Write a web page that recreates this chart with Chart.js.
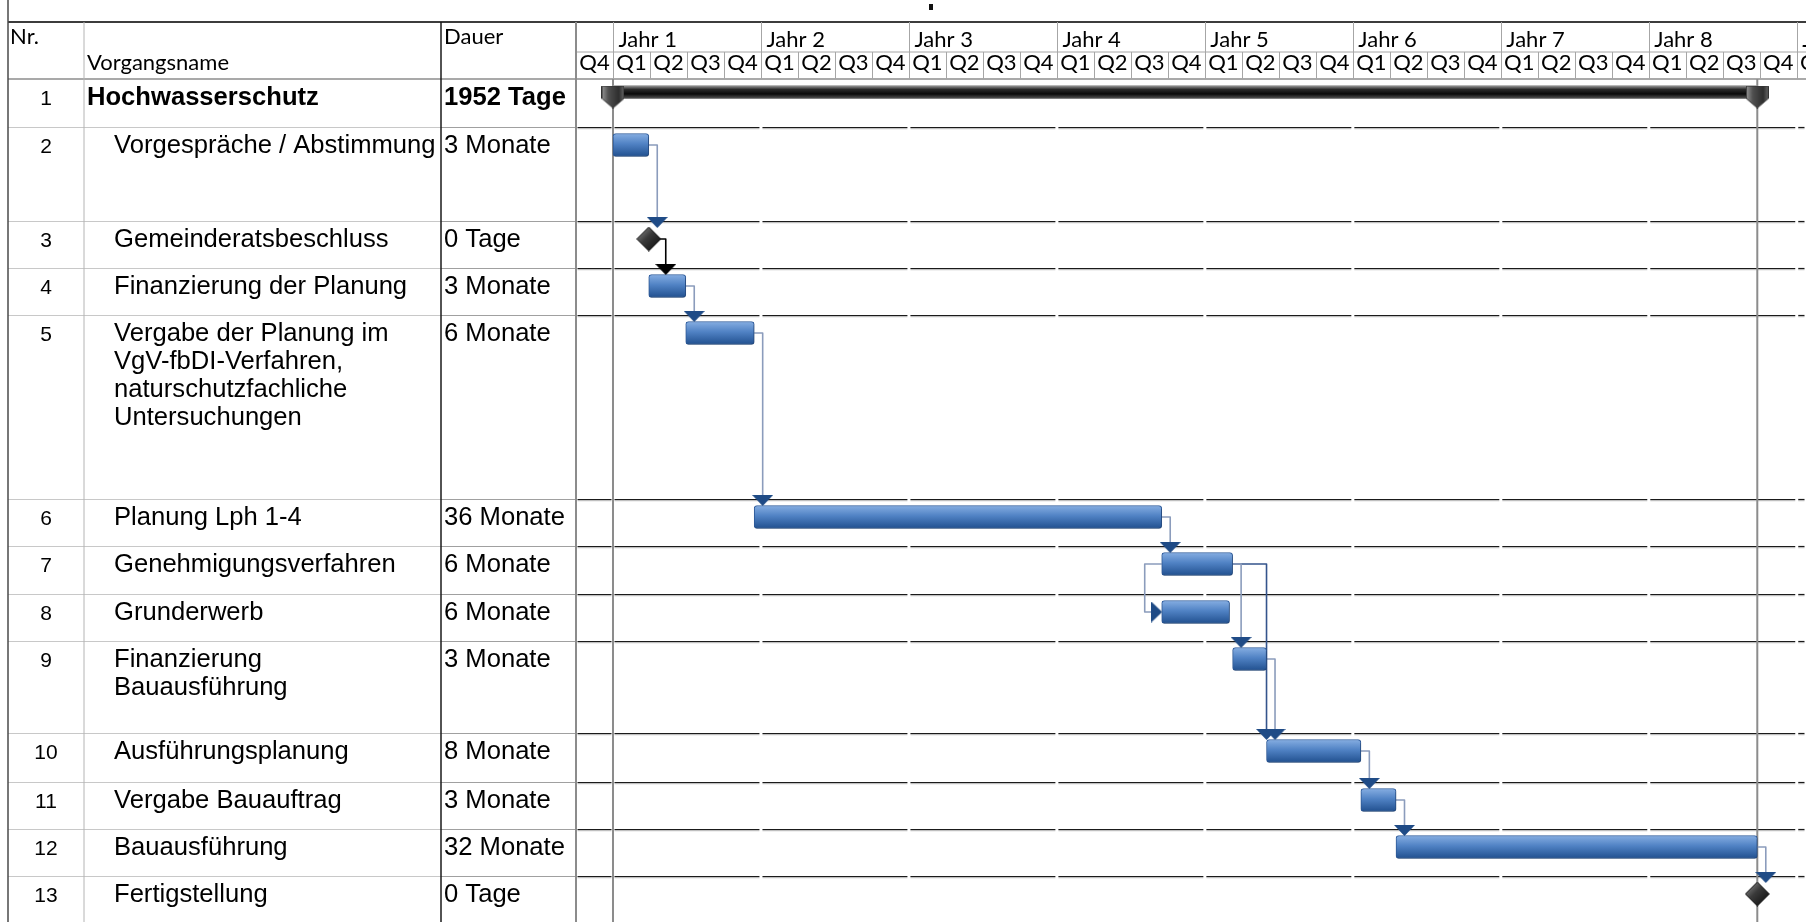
<!DOCTYPE html>
<html lang="de">
<head>
<meta charset="utf-8">
<title>Hochwasserschutz – Terminplan</title>
<script src="https://cdn.jsdelivr.net/npm/chart.js@4.4.1/dist/chart.umd.min.js"></script>
<style>
  html, body { margin: 0; padding: 0; background: #fff; }
  #wrap { position: relative; width: 1806px; height: 922px; }
</style>
</head>
<body>
<div id="wrap"><canvas id="gantt"></canvas></div>
<script>
// ---- Vorgänge ----
const columnHeaders = ['Nr.', 'Vorgangsname', 'Dauer'];
const taskIds = [1, 2, 3, 4, 5, 6, 7, 8, 9, 10, 11, 12, 13];
const taskNames = [
  'Hochwasserschutz',
  'Vorgespräche / Abstimmung',
  'Gemeinderatsbeschluss',
  'Finanzierung der Planung',
  'Vergabe der Planung im\nVgV-fbDI-Verfahren,\nnaturschutzfachliche\nUntersuchungen',
  'Planung Lph 1-4',
  'Genehmigungsverfahren',
  'Grunderwerb',
  'Finanzierung\nBauausführung',
  'Ausführungsplanung',
  'Vergabe Bauauftrag',
  'Bauausführung',
  'Fertigstellung'
];
const taskDurations = ['1952 Tage', '3 Monate', '0 Tage', '3 Monate', '6 Monate', '36 Monate',
  '6 Monate', '6 Monate', '3 Monate', '8 Monate', '3 Monate', '32 Monate', '0 Tage'];
const taskKinds = ['summary', 'task', 'milestone', 'task', 'task', 'task',
  'task', 'task', 'task', 'task', 'task', 'task', 'milestone'];
// Beginn / Ende in Monaten ab Beginn "Jahr 1"
const taskStart = [0, 0, 2.9, 2.9, 5.9, 11.45, 44.5, 44.5, 50.25, 53.0, 60.65, 63.5, 92.8];
const taskEnd   = [92.8, 2.9, 2.9, 5.9, 11.45, 44.5, 50.25, 50.0, 53.0, 60.65, 63.5, 92.8, 92.8];

// ---- Anordnungsbeziehungen ----
const linkFrom = [2, 3, 4, 5, 6, 7, 7, 7, 9, 10, 11, 12];
const linkTo   = [3, 4, 5, 6, 7, 8, 9, 10, 10, 11, 12, 13];
const linkType = ['FS', 'FS', 'FS', 'FS', 'FS', 'SS', 'FS', 'FS', 'FS', 'FS', 'FS', 'FS'];

// ---- Zeitskala ----
const yearLabels = ['Jahr 1', 'Jahr 2', 'Jahr 3', 'Jahr 4', 'Jahr 5', 'Jahr 6', 'Jahr 7', 'Jahr 8', 'Jahr 9'];
const quarterNames = ['Q1', 'Q2', 'Q3', 'Q4'];

// ---- Layout (Tabelle) ----
const W = 1806, H = 922;
const HEAD_TOP = 22, HEAD_MID = 52, HEAD_BOT = 79;
const COL_X = [8, 84, 441];      // Rand | Nr. | Vorgangsname | Dauer
const COL_CHART = 576;           // Beginn Balkendiagramm
const rowHeights = [48, 94, 47, 47, 184, 47, 48, 47, 92, 49, 47, 47, 46];
const X_MIN = -3, X_MAX = 96.75;
const PPM = (W - COL_CHART) / (X_MAX - X_MIN);
const mo = p => p / PPM;         // Pixelabstand -> Monate

const rowTop = [];
let acc = 0;
rowHeights.forEach(h => { rowTop.push(acc); acc += h; });
const idx = id => taskIds.indexOf(id);

// Balken, Meilensteine, Sammelvorgang
const barData = [], summaryData = [], capData = [], msData = [];
taskIds.forEach((id, i) => {
  if (taskKinds[i] === 'task') {
    barData.push({ x: [taskStart[i], taskEnd[i]], y: rowTop[i] + 18 });
  } else if (taskKinds[i] === 'summary') {
    summaryData.push({ x: [taskStart[i], taskEnd[i]], y: rowTop[i] + 13 });
    capData.push({ x: taskStart[i], y: rowTop[i] + 18 }, { x: taskEnd[i], y: rowTop[i] + 18 });
  } else {
    msData.push({ x: taskStart[i], y: rowTop[i] + 18 });
  }
});

// Verbindungslinien und Pfeile
const linkSets = [], arrowDown = [], arrowDownBlack = [], arrowRight = [];
linkFrom.forEach((from, k) => {
  const a = idx(from), b = idx(linkTo[k]);
  const ya = rowTop[a] + 18, yb = rowTop[b];
  let pts, color = '#8b9cbc';
  if (linkType[k] === 'SS') {
    const xl = taskStart[a] - mo(17);
    pts = [{ x: taskStart[a], y: ya }, { x: xl, y: ya }, { x: xl, y: yb + 18 }, { x: taskStart[b] - mo(9), y: yb + 18 }];
    arrowRight.push({ x: taskStart[b] - mo(5), y: yb + 18 });
  } else {
    const ms = taskKinds[a] === 'milestone';
    const x0 = taskEnd[a] + mo(ms ? 11 : 0);
    const xt = Math.max(taskEnd[a] + mo(ms ? 17 : 8.5), taskStart[b]);
    pts = [{ x: x0, y: ya }, { x: xt, y: ya }, { x: xt, y: yb - 3 }];
    (ms ? arrowDownBlack : arrowDown).push({ x: xt, y: yb + 1.5 });
    if (ms) color = '#000000';
    else if (taskStart[b] > taskEnd[a] + mo(8.5)) color = '#34548c';
  }
  linkSets.push({
    type: 'line', data: pts, borderColor: color, borderWidth: 1.6,
    pointRadius: 0, tension: 0, fill: false, borderJoinStyle: 'round', order: 3
  });
});

// ---- Symbole ----
function makeCanvas(w, h, draw) {
  const c = document.createElement('canvas');
  c.width = w; c.height = h;
  draw(c.getContext('2d'));
  return c;
}
const arrowImg = color => makeCanvas(21, 11, g => {
  g.fillStyle = color;
  g.beginPath(); g.moveTo(0, 0); g.lineTo(21, 0); g.lineTo(10.5, 11); g.closePath(); g.fill();
});
const arrowBlue = arrowImg('#1f4b86');
const arrowBlack = arrowImg('#000000');
const diamondImg = makeCanvas(25, 25, g => {
  const gr = g.createLinearGradient(2, 2, 22, 22);
  gr.addColorStop(0, '#8a8a8a'); gr.addColorStop(0.45, '#3a3a3a'); gr.addColorStop(1, '#111');
  g.fillStyle = gr; g.strokeStyle = '#1a1a1a'; g.lineWidth = 1;
  g.beginPath(); g.moveTo(12.5, 0.5); g.lineTo(24.5, 12.5); g.lineTo(12.5, 24.5); g.lineTo(0.5, 12.5); g.closePath();
  g.fill(); g.stroke();
});
const capImg = makeCanvas(23, 23, g => {
  const gr = g.createLinearGradient(0, 0, 23, 0);
  gr.addColorStop(0, '#9a9a9a'); gr.addColorStop(0.3, '#505050'); gr.addColorStop(0.75, '#2e2e2e'); gr.addColorStop(1, '#6a6a6a');
  g.fillStyle = gr; g.strokeStyle = '#333'; g.lineWidth = 1;
  g.beginPath(); g.moveTo(0.5, 0.5); g.lineTo(22.5, 0.5); g.lineTo(22.5, 13); g.lineTo(11.5, 22.5); g.lineTo(0.5, 13); g.closePath();
  g.fill(); g.stroke();
});

function blueFill(c) {
  const chart = c.chart;
  if (!chart.chartArea || !c.raw) return '#4a7bc0';
  const yc = chart.scales.y.getPixelForValue(c.raw.y);
  if (!isFinite(yc)) return '#4a7bc0';
  const g = chart.ctx.createLinearGradient(0, yc - 11.5, 0, yc + 11.5);
  g.addColorStop(0, '#86aee2'); g.addColorStop(0.45, '#5082c4'); g.addColorStop(1, '#21508f');
  return g;
}
function darkFill(c) {
  const chart = c.chart;
  if (!chart.chartArea || !c.raw) return '#1a1a1a';
  const yc = chart.scales.y.getPixelForValue(c.raw.y);
  if (!isFinite(yc)) return '#1a1a1a';
  const g = chart.ctx.createLinearGradient(0, yc - 6.5, 0, yc + 6.5);
  g.addColorStop(0, '#a0a0a0'); g.addColorStop(0.3, '#2a2a2a'); g.addColorStop(0.65, '#0a0a0a'); g.addColorStop(1, '#555555');
  return g;
}

// ---- Tabelle + Zeitskala ----
const ganttTable = {
  id: 'ganttTable',
  beforeDraw(chart) {
    const { ctx, scales: { x, y } } = chart;
    const R = chart.width, B = chart.height;
    const px = m => x.getPixelForValue(m);
    const py = v => y.getPixelForValue(v);
    const line = (x1, y1, x2, y2, color, w) => {
      ctx.strokeStyle = color; ctx.lineWidth = w;
      ctx.beginPath(); ctx.moveTo(x1, y1); ctx.lineTo(x2, y2); ctx.stroke();
    };

    ctx.save();
    ctx.fillStyle = '#fff';
    ctx.fillRect(0, 0, R, B);

    // Zeilenlinien, im Diagramm an den Jahresgrenzen unterbrochen
    const segs = [COL_CHART, ...yearLabels.map((_, k) => px(12 * k)), R];
    rowTop.forEach((t, i) => {
      const yy = Math.round(py(t + rowHeights[i])) + 0.5;
      if (yy > B) return;
      line(COL_X[0], yy, COL_X[2], yy, '#c8c8c8', 1);
      line(COL_X[2], yy, COL_CHART, yy, '#a0a0a0', 1);
      for (let s = 0; s < segs.length - 1; s++) {
        line(segs[s] + 1.5, yy, segs[s + 1] - 1.5, yy, '#1a1a1a', 1.2);
        line(segs[s] + 1.5, yy + 1.2, segs[s + 1] - 1.5, yy + 1.2, '#b0b0b0', 1);
      }
    });

    // Kopf
    line(COL_X[0], HEAD_TOP, R, HEAD_TOP, '#3c3c3c', 2);
    line(COL_CHART, HEAD_MID, R, HEAD_MID, '#a6a6a6', 1);
    line(COL_X[0], HEAD_BOT, R, HEAD_BOT, '#8c8c8c', 1.5);
    for (let m = 0; m <= X_MAX; m += 3) {
      const xx = Math.round(px(m)) + 0.5;
      line(xx, m % 12 === 0 ? HEAD_TOP : HEAD_MID, xx, HEAD_BOT, '#a6a6a6', 1);
    }

    // Spalten
    line(COL_X[0], 0, COL_X[0], B, '#4a4a4a', 1.5);
    line(COL_X[1], HEAD_TOP, COL_X[1], B, '#b4b4b4', 1);
    line(COL_X[2], HEAD_TOP, COL_X[2], B, '#1a1a1a', 1.5);
    line(COL_CHART, HEAD_TOP, COL_CHART, B, '#8c8c8c', 2);
    // Projektanfang / Projektende
    line(px(taskStart[0]), HEAD_BOT, px(taskStart[0]), B, '#8c8c8c', 2);
    line(px(taskEnd[0]), HEAD_BOT, px(taskEnd[0]), B, '#8c8c8c', 2);

    // Kopftexte
    ctx.fillStyle = '#000';
    ctx.textBaseline = 'alphabetic';
    ctx.font = '22px Lato';
    ctx.textAlign = 'left';
    ctx.fillText(columnHeaders[0], 10, 44);
    ctx.fillText(columnHeaders[1], 87, 70);
    ctx.fillText(columnHeaders[2], 444, 44);
    yearLabels.forEach((lab, k) => ctx.fillText(lab, px(12 * k) + 5.5, 47));
    ctx.textAlign = 'center';
    for (let m = X_MIN; m < X_MAX; m += 3) {
      ctx.fillText(quarterNames[((m / 3) % 4 + 4) % 4], px(m + 1.5), 69.5);
    }

    // Zeilentexte
    rowTop.forEach((t, i) => {
      const base = py(t) + 25.5;
      const bold = taskKinds[i] === 'summary';
      ctx.textAlign = 'center';
      ctx.font = '21px "Liberation Sans"';
      ctx.fillText(String(taskIds[i]), 46, base);
      ctx.textAlign = 'left';
      ctx.font = (bold ? 'bold ' : '') + '25.6px "Liberation Sans"';
      taskNames[i].split('\n').forEach((ln, j) => ctx.fillText(ln, bold ? 87 : 114, base + j * 28));
      ctx.fillText(taskDurations[i], 444, base);
    });

    ctx.fillStyle = '#111';
    ctx.fillRect(929, 4, 4, 6);
    ctx.restore();
  }
};

// leichter Schatten unter den Vorgangsbalken
const barShadow = {
  id: 'barShadow',
  beforeDatasetDraw(chart, args) {
    if (args.index !== 0) return;
    const ctx = chart.ctx;
    ctx.save();
    ctx.shadowColor = 'rgba(0,0,0,0.22)';
    ctx.shadowOffsetX = 1; ctx.shadowOffsetY = 2; ctx.shadowBlur = 2;
  },
  afterDatasetDraw(chart, args) {
    if (args.index === 0) chart.ctx.restore();
  }
};

function build() {
  new Chart(document.getElementById('gantt'), {
    type: 'bar',
    data: {
      datasets: [
        {
          type: 'bar', label: 'Vorgänge', indexAxis: 'y', grouped: false, data: barData,
          barThickness: 23, borderRadius: 3, borderSkipped: false, borderWidth: 1,
          borderColor: '#2d5a9a', backgroundColor: blueFill, order: 2
        },
        {
          type: 'bar', label: 'Sammelvorgang', indexAxis: 'y', grouped: false, data: summaryData,
          barThickness: 13, borderWidth: 0, borderSkipped: false, backgroundColor: darkFill, order: 2
        },
        ...linkSets,
        { type: 'line', showLine: false, data: capData, pointStyle: capImg, pointRadius: 6, order: 1 },
        { type: 'line', showLine: false, data: msData, pointStyle: diamondImg, pointRadius: 6, order: 1 },
        { type: 'line', showLine: false, data: arrowDown, pointStyle: arrowBlue, pointRadius: 6, order: 0 },
        { type: 'line', showLine: false, data: arrowDownBlack, pointStyle: arrowBlack, pointRadius: 6, order: 0 },
        { type: 'line', showLine: false, data: arrowRight, pointStyle: arrowBlue, pointRotation: -90, pointRadius: 6, order: 0 }
      ]
    },
    options: {
      responsive: true,
      maintainAspectRatio: false,
      animation: false,
      events: [],
      layout: { autoPadding: false, padding: { left: COL_CHART, top: HEAD_BOT, right: 0, bottom: 0 } },
      plugins: { legend: { display: false }, tooltip: { enabled: false } },
      scales: {
        x: { type: 'linear', min: X_MIN, max: X_MAX, offset: false, display: false },
        y: { type: 'linear', min: 0, max: H - HEAD_BOT, reverse: true, offset: false, display: false }
      }
    },
    plugins: [ganttTable, barShadow]
  });
}

const fontsReady = document.fonts
  ? Promise.all(['22px Lato', '25px "Liberation Sans"', 'bold 25px "Liberation Sans"'].map(f => document.fonts.load(f)))
  : Promise.resolve();
fontsReady.catch(() => {}).then(build);
</script>
</body>
</html>
